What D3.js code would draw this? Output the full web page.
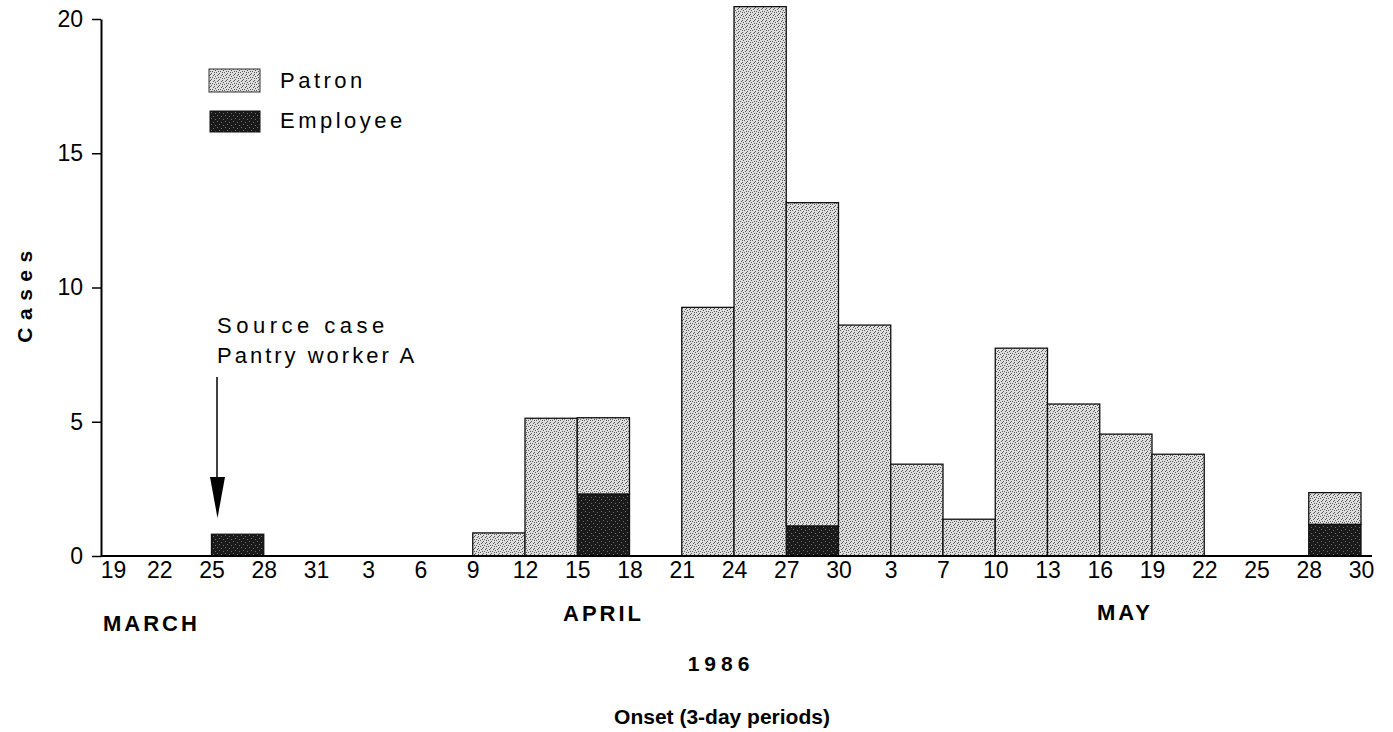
<!DOCTYPE html>
<html>
<head>
<meta charset="utf-8">
<script src="https://cdn.jsdelivr.net/npm/d3@7"></script>
<style>
    body { margin: 0; background: #fff; }
    svg { display: block; font-family: "Liberation Sans", Arial, Helvetica, sans-serif; }
</style>
</head>
<body>
<svg id="chart" width="1393" height="732"></svg>
<script>
(function (d3) {
    'use strict';

    // boundaries of the 3-day periods, as printed under the axis
    var tickLabels = ['19', '22', '25', '28', '31', '3', '6', '9', '12', '15', '18', '21',
        '24', '27', '30', '3', '7', '10', '13', '16', '19', '22', '25', '28', '30'];

    // cases per period (period i runs from tickLabels[i] to tickLabels[i + 1])
    var employee = [0, 0, 0.81, 0, 0, 0, 0, 0, 0, 2.31, 0, 0,
        0, 1.12, 0, 0, 0, 0, 0, 0, 0, 0, 0, 1.18];
    var patron = [0, 0, 0, 0, 0, 0, 0, 0.86, 5.13, 2.84, 0, 9.26,
        20.46, 12.04, 8.6, 3.42, 1.37, 7.74, 5.66, 4.54, 3.79, 0, 0, 1.18];

    var yTicks = [0, 5, 10, 15, 20];
    var months = [
        {name: 'MARCH', x: 103, y: 631},
        {name: 'APRIL', x: 563, y: 621},
        {name: 'MAY', x: 1097, y: 620}
    ];

    var svg = d3.select('#chart'),
        defs = svg.append('defs'),
        x = d3.scaleLinear().domain([0, 24]).range([107, 1361]),
        y = d3.scaleLinear().domain([0, 20]).range([556, 19]),
        rows,
        stacked,
        fills = {patron: 'url(#stipple-light)', employee: 'url(#stipple-dark)'};

    // stipple textures like the scanned screen tint
    function stipple(id, bg, ink, dots) {
        var p = defs.append('pattern')
            .attr('id', id)
            .attr('patternUnits', 'userSpaceOnUse')
            .attr('width', 8)
            .attr('height', 6);
        p.append('rect').attr('width', 8).attr('height', 6).attr('fill', bg);
        p.selectAll('rect.dot')
            .data(dots)
            .enter()
            .append('rect')
            .attr('class', 'dot')
            .attr('x', function (d) { return d[0]; })
            .attr('y', function (d) { return d[1]; })
            .attr('width', 1)
            .attr('height', 1)
            .attr('fill', ink);
    }
    stipple('stipple-light', '#dedede', '#5a5a5a',
        [[0, 0], [3, 1], [6, 0], [1, 3], [5, 3], [2, 5], [7, 4], [4, 5], [6, 2], [2, 2]]);
    stipple('stipple-dark', '#1a1a1a', '#707070',
        [[1, 1], [5, 2], [3, 4], [7, 5]]);

    rows = patron.map(function (p, i) {
        return {i: i, employee: employee[i], patron: p};
    });
    stacked = d3.stack().keys(['employee', 'patron'])(rows);

    // bars
    svg.append('g')
        .selectAll('g')
        .data(stacked)
        .enter()
        .append('g')
        .attr('fill', function (s) { return fills[s.key]; })
        .selectAll('rect')
        .data(function (s) { return s.filter(function (d) { return d[1] > d[0]; }); })
        .enter()
        .append('rect')
        .attr('x', function (d) { return x(d.data.i); })
        .attr('width', function (d) { return x(d.data.i + 1) - x(d.data.i); })
        .attr('y', function (d) { return y(d[1]); })
        .attr('height', function (d) { return y(d[0]) - y(d[1]); })
        .attr('stroke', '#111')
        .attr('stroke-width', 1.3);

    // x axis: baseline and period boundary labels
    svg.append('line')
        .attr('x1', 101).attr('x2', 1372)
        .attr('y1', y(0)).attr('y2', y(0))
        .attr('stroke', '#000')
        .attr('stroke-width', 2);

    svg.append('g')
        .attr('transform', 'translate(0,' + y(0) + ')')
        .call(d3.axisBottom(x)
            .tickValues(d3.range(tickLabels.length))
            .tickFormat(function (i) { return tickLabels[i]; })
            .tickSize(0)
            .tickPadding(6))
        .call(function (g) {
            g.select('.domain').remove();
            g.selectAll('text')
                .attr('font-size', 23)
                .attr('font-family', null)
                .attr('fill', '#000')
                .attr('dx', function (i) { return i === 0 ? 6 : 0; });
        });

    // y axis
    svg.append('g')
        .attr('transform', 'translate(101,0)')
        .call(d3.axisLeft(y)
            .tickValues(yTicks)
            .tickSize(9)
            .tickSizeOuter(0)
            .tickPadding(9))
        .call(function (g) {
            g.select('.domain').attr('stroke-width', 2);
            g.selectAll('line').attr('stroke-width', 1.5);
            g.selectAll('text')
                .attr('font-size', 23)
                .attr('font-family', null)
                .attr('fill', '#000');
        });

    svg.append('text')
        .attr('transform', 'translate(32,293) rotate(-90)')
        .attr('text-anchor', 'middle')
        .attr('font-size', 21)
        .attr('font-weight', 'bold')
        .attr('letter-spacing', 7.5)
        .text('Cases');

    // legend
    svg.append('rect')
        .attr('x', 209).attr('y', 69).attr('width', 51).attr('height', 23)
        .attr('fill', fills.patron).attr('stroke', '#333').attr('stroke-width', 1);
    svg.append('rect')
        .attr('x', 210).attr('y', 111).attr('width', 50).attr('height', 21)
        .attr('fill', fills.employee).attr('stroke', '#111').attr('stroke-width', 1);
    svg.append('text')
        .attr('x', 280).attr('y', 88)
        .attr('font-size', 22).attr('letter-spacing', 3.5)
        .text('Patron');
    svg.append('text')
        .attr('x', 280).attr('y', 128)
        .attr('font-size', 22).attr('letter-spacing', 3.5)
        .text('Employee');

    // source case note and arrow
    svg.append('text')
        .attr('x', 217).attr('y', 333)
        .attr('font-size', 22).attr('letter-spacing', 4.5)
        .text('Source case');
    svg.append('text')
        .attr('x', 217).attr('y', 363)
        .attr('font-size', 22).attr('letter-spacing', 3)
        .text('Pantry worker A');
    svg.append('line')
        .attr('x1', 217).attr('x2', 217)
        .attr('y1', 377).attr('y2', 480)
        .attr('stroke', '#000').attr('stroke-width', 1.5);
    svg.append('path')
        .attr('d', 'M210,477 L225,477 L217.5,518 Z')
        .attr('fill', '#000');

    // month, year and axis title
    svg.append('g')
        .selectAll('text')
        .data(months)
        .enter()
        .append('text')
        .attr('x', function (d) { return d.x; })
        .attr('y', function (d) { return d.y; })
        .attr('font-size', 22)
        .attr('font-weight', 'bold')
        .attr('letter-spacing', 3)
        .text(function (d) { return d.name; });

    svg.append('text')
        .attr('x', 721).attr('y', 671)
        .attr('text-anchor', 'middle')
        .attr('font-size', 21)
        .attr('font-weight', 'bold')
        .attr('letter-spacing', 5)
        .text('1986');

    svg.append('text')
        .attr('x', 722).attr('y', 724)
        .attr('text-anchor', 'middle')
        .attr('font-size', 21)
        .attr('font-weight', 'bold')
        .text('Onset (3-day periods)');

}(window.d3));
</script>
</body>
</html>
